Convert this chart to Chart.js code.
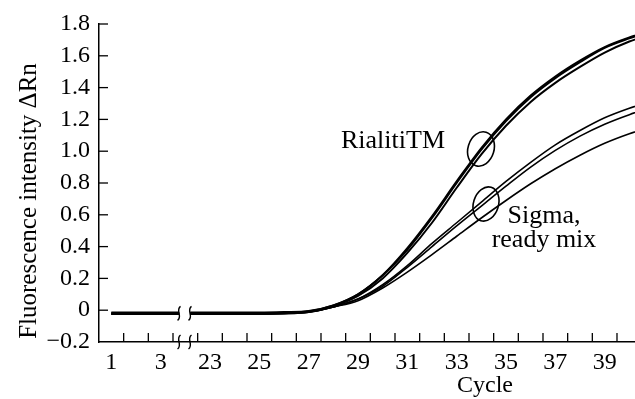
<!DOCTYPE html>
<html>
<head>
<meta charset="utf-8">
<script src="https://cdn.jsdelivr.net/npm/chart.js@4"></script>
<style>
  html, body { margin: 0; padding: 0; background: #fff; }
  #wrap { width: 635px; height: 399px; }
</style>
</head>
<body>
<div id="wrap"><canvas id="pcr" width="635" height="399"></canvas></div>
<script>
// cycles along the x axis; the axis is broken between 3 and 23
const cycles = [1, 2, 3, 3.75, 22.2, 23, 24, 25, 26, 27, 28, 29, 30, 31, 32, 33, 34, 35, 36, 37, 38, 39, 40, 41];

// RialitiTM runs (delta Rn)
const rialiti1 = [-0.015, -0.015, -0.015, -0.015, -0.015, -0.015, -0.015, -0.015, -0.012, -0.005, 0.03, 0.10, 0.22, 0.38, 0.58, 0.80, 1.01, 1.19, 1.34, 1.46, 1.56, 1.65, 1.71, 1.76];
const rialiti2 = [-0.02, -0.02, -0.02, -0.02, -0.02, -0.02, -0.02, -0.02, -0.017, -0.01, 0.025, 0.09, 0.20, 0.36, 0.55, 0.77, 0.98, 1.16, 1.31, 1.43, 1.53, 1.62, 1.69, 1.74];
const rialiti3 = [-0.02, -0.02, -0.02, -0.02, -0.02, -0.02, -0.02, -0.02, -0.016, -0.008, 0.03, 0.10, 0.22, 0.39, 0.59, 0.81, 1.02, 1.20, 1.35, 1.47, 1.57, 1.655, 1.715, 1.765];

// Sigma ready mix runs
const sigma1 = [-0.025, -0.025, -0.025, -0.025, -0.025, -0.025, -0.025, -0.025, -0.022, -0.012, 0.02, 0.07, 0.16, 0.28, 0.42, 0.55, 0.68, 0.81, 0.93, 1.04, 1.13, 1.21, 1.27, 1.32];
const sigma2 = [-0.02, -0.02, -0.02, -0.02, -0.02, -0.02, -0.02, -0.02, -0.018, -0.01, 0.02, 0.07, 0.15, 0.27, 0.40, 0.53, 0.655, 0.78, 0.90, 1.005, 1.095, 1.17, 1.23, 1.28];
const sigma3 = [-0.025, -0.025, -0.025, -0.025, -0.025, -0.025, -0.025, -0.025, -0.022, -0.013, 0.02, 0.06, 0.14, 0.24, 0.35, 0.465, 0.58, 0.69, 0.795, 0.89, 0.975, 1.05, 1.11, 1.16];

// tick labels
const xTickCycles = [1, 3, 23, 25, 27, 29, 31, 33, 35, 37, 39];
const yTicks = [-0.2, 0, 0.2, 0.4, 0.6, 0.8, 1.0, 1.2, 1.4, 1.6, 1.8];

const FONT = '"Liberation Serif", "Times New Roman", serif';

// cycle -> slot on the broken axis
function pos(c){ return c <= 4 ? c - 1 : c - 19; }
function cycleAt(p){ return p <= 3 ? p + 1 : p + 19; }

function series(vals){
    const pts = [];
    cycles.forEach((c, i) => {
        if(c === 22.2) pts.push({ x: 3, y: null }); // gap at the break
        pts.push({ x: pos(c), y: vals[i] });
    });
    return pts;
}

function ds(vals, w){
    return { data: series(vals), borderColor: '#000', borderWidth: w, pointRadius: 0,
             fill: false, spanGaps: false, cubicInterpolationMode: 'monotone' };
}

function squiggle(ctx, x, y){
    ctx.beginPath();
    ctx.moveTo(x + 1.5, y - 7);
    ctx.bezierCurveTo(x - 4, y - 3, x + 4, y + 3, x - 1.5, y + 7);
    ctx.stroke();
}

const decor = {
    id: 'decor',
    afterDraw(chart){
        const ctx = chart.ctx, xs = chart.scales.x, ys = chart.scales.y, a = chart.chartArea;
        ctx.save();
        ctx.strokeStyle = '#000';
        ctx.fillStyle = '#000';
        ctx.lineWidth = 1.3;
        // inward tick marks
        yTicks.forEach(v => {
            if(v === -0.2) return;
            const y = ys.getPixelForValue(v);
            ctx.beginPath(); ctx.moveTo(a.left, y); ctx.lineTo(a.left + 9, y); ctx.stroke();
        });
        for(let p = 0.5; p < xs.max; p += 1){
            const x = xs.getPixelForValue(p);
            ctx.beginPath(); ctx.moveTo(x, a.bottom); ctx.lineTo(x, a.bottom - 9); ctx.stroke();
        }
        // break marks on curves and axis
        ctx.lineWidth = 1.4;
        [2.745, 3.19].forEach(p => {
            const x = xs.getPixelForValue(p);
            squiggle(ctx, x, ys.getPixelForValue(-0.02));
            squiggle(ctx, x, a.bottom);
        });
        // group ellipses
        ctx.lineWidth = 1.6;
        ctx.beginPath();
        ctx.ellipse(481, 149, 13, 17.5, 0.3, 0, Math.PI * 2);
        ctx.stroke();
        ctx.beginPath();
        ctx.ellipse(486, 204, 12.5, 17.5, 0.3, 0, Math.PI * 2);
        ctx.stroke();
        // annotations
        ctx.font = '26px ' + FONT;
        ctx.textBaseline = 'alphabetic';
        ctx.textAlign = 'left';
        ctx.fillText('RialitiTM', 341, 148);
        ctx.textAlign = 'center';
        ctx.fillText('Sigma,', 544, 223);
        ctx.fillText('ready mix', 544, 247);
        // axis titles
        ctx.font = '24px ' + FONT;
        ctx.textBaseline = 'middle';
        ctx.fillText('Cycle', 485, 386);
        ctx.translate(29, 201);
        ctx.rotate(-Math.PI / 2);
        ctx.font = '25px ' + FONT;
        ctx.fillText('Fluorescence intensity \u0394Rn', 0, 0);
        ctx.restore();
    }
};

new Chart(document.getElementById('pcr'), {
    type: 'line',
    data: {
        datasets: [
            ds(rialiti1, 2), ds(rialiti2, 2), ds(rialiti3, 2),
            ds(sigma1, 1.6), ds(sigma2, 1.6), ds(sigma3, 1.6)
        ]
    },
    options: {
        responsive: false,
        animation: false,
        events: [],
        layout: { padding: { top: 24, right: 0, left: 0, bottom: 0 } },
        plugins: { legend: { display: false }, tooltip: { enabled: false } },
        scales: {
            x: {
                type: 'linear', min: -0.5, max: 21.23,
                afterFit: s => { s.height = 57; },
                afterBuildTicks: s => { s.ticks = xTickCycles.map(c => ({ value: pos(c) })); },
                grid: { display: true, drawOnChartArea: false, drawTicks: false },
                border: { display: true, color: '#000', width: 1.5 },
                ticks: {
                    autoSkip: false, maxRotation: 0, padding: 6, color: '#000',
                    font: { family: FONT, size: 24 },
                    callback: v => String(cycleAt(v))
                }
            },
            y: {
                min: -0.2, max: 1.8,
                afterFit: s => { s.width = 99; },
                afterBuildTicks: s => { s.ticks = yTicks.map(v => ({ value: v })); },
                grid: { display: true, drawOnChartArea: false, drawTicks: false },
                border: { display: true, color: '#000', width: 1.5 },
                ticks: {
                    padding: 9, color: '#000',
                    font: { family: FONT, size: 24 },
                    callback: v => Math.abs(v) < 1e-9 ? '0' : v.toFixed(1).replace('-', '\u2212')
                }
            }
        }
    },
    plugins: [decor]
});
</script>
</body>
</html>
